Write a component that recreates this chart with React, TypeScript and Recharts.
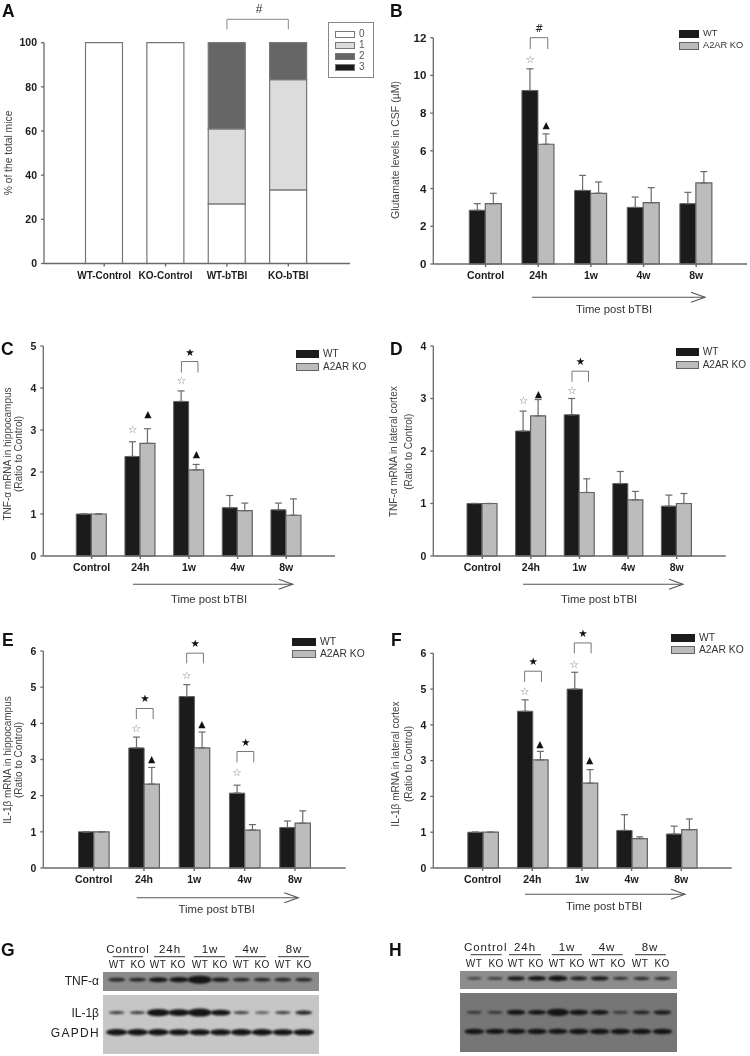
import { Bar, BarChart, ErrorBar, Legend, ReferenceDot, ReferenceLine, Scatter, ScatterChart, XAxis, YAxis } from 'recharts';

const SANS = '"Liberation Sans", Arial, sans-serif';
const GLYPHS = '"DejaVu Sans", sans-serif';
const AXIS = '#6a6a6a';
const WT_FILL = '#1b1b1b';
const KO_FILL = '#bcbcbc';
const BAR_EDGE = '#626262';

// panel A
const scoreCats = ['WT-Control', 'KO-Control', 'WT-bTBI', 'KO-bTBI'];
const score0 = [100, 100, 27, 33.3];
const score1 = [0, 0, 34, 50];
const score2 = [0, 0, 39, 16.7];
const score3 = [0, 0, 0, 0];

const times = ['Control', '24h', '1w', '4w', '8w'];

// panel B
const bWt = [2.85, 9.2, 3.9, 3, 3.2];
const bKo = [3.2, 6.35, 3.75, 3.25, 4.3];
const bWtTop = [3.2, 10.35, 4.7, 3.55, 3.8];
const bKoTop = [3.75, 6.9, 4.35, 4.05, 4.9];
// panel C
const cWt = [1, 2.37, 3.68, 1.15, 1.1];
const cKo = [1, 2.68, 2.05, 1.08, 0.97];
const cWtTop = [1, 2.72, 3.93, 1.44, 1.26];
const cKoTop = [1, 3.03, 2.18, 1.26, 1.36];
// panel D
const dWt = [1, 2.38, 2.69, 1.38, 0.95];
const dKo = [1, 2.67, 1.21, 1.07, 1];
const dWtTop = [1, 2.76, 3, 1.61, 1.16];
const dKoTop = [1, 2.98, 1.47, 1.23, 1.19];
// panel E
const eWt = [1, 3.32, 4.74, 2.07, 1.12];
const eKo = [1, 2.32, 3.32, 1.05, 1.24];
const eWtTop = [1, 3.62, 5.07, 2.29, 1.3];
const eKoTop = [1, 2.78, 3.76, 1.2, 1.58];
// panel F
const fWt = [1, 4.38, 5, 1.05, 0.95];
const fKo = [1, 3.02, 2.37, 0.82, 1.07];
const fWtTop = [1, 4.7, 5.47, 1.49, 1.17];
const fKoTop = [1, 3.26, 2.75, 0.87, 1.37];

// significance marks: [category, y value]
type Pt = [string, number];
type Br = [string, number, number];
const bOpen: Pt[] = [['24h', 10.85]];
const bTri: Pt[] = [['24h', 7.42]];
const bBrackets: Br[] = [['24h', 12, 11.4]];
const bHash: Pt[] = [['24h', 12.5]];
const cOpen: Pt[] = [['24h', 3.02], ['1w', 4.2]];
const cTri: Pt[] = [['24h', 3.39], ['1w', 2.44]];
const cBrackets: Br[] = [['1w', 4.63, 4.37]];
const cStar: Pt[] = [['1w', 4.86]];
const dOpen: Pt[] = [['24h', 2.97], ['1w', 3.17]];
const dTri: Pt[] = [['24h', 3.1]];
const dBrackets: Br[] = [['1w', 3.52, 3.32]];
const dStar: Pt[] = [['1w', 3.71]];
const eOpen: Pt[] = [['24h', 3.88], ['1w', 5.33], ['4w', 2.65]];
const eTri: Pt[] = [['24h', 3.02], ['1w', 4]];
const eBrackets: Br[] = [['24h', 4.41, 4.12], ['1w', 5.94, 5.66], ['4w', 3.22, 2.92]];
const eStar: Pt[] = [['24h', 4.69], ['1w', 6.21], ['4w', 3.49]];
const fOpen: Pt[] = [['24h', 4.94], ['1w', 5.71]];
const fTri: Pt[] = [['24h', 3.49], ['1w', 3.03]];
const fBrackets: Br[] = [['24h', 5.5, 5.2], ['1w', 6.29, 6]];
const fStar: Pt[] = [['24h', 5.78], ['1w', 6.56]];

// blot band strength per lane
const gTnf = [0.3, 0.3, 0.5, 0.55, 1, 0.4, 0.3, 0.3, 0.3, 0.3];
const gIl = [0.2, 0.2, 0.9, 0.8, 1, 0.65, 0.2, 0.1, 0.2, 0.35];
const gGapdh = [0.75, 0.75, 0.75, 0.7, 0.7, 0.7, 0.75, 0.75, 0.7, 0.7];
const hTnf = [0.12, 0.15, 0.4, 0.45, 0.6, 0.35, 0.4, 0.2, 0.25, 0.25];
const hIl = [0.15, 0.15, 0.5, 0.45, 0.85, 0.55, 0.45, 0.15, 0.3, 0.4];
const hGapdh = [0.6, 0.55, 0.55, 0.6, 0.55, 0.6, 0.6, 0.6, 0.6, 0.6];
const blotGroups = ['Control', '24h', '1w', '4w', '8w'];
const blotLanes = ['WT', 'KO', 'WT', 'KO', 'WT', 'KO', 'WT', 'KO', 'WT', 'KO'];

const makeRows = (wt: number[], ko: number[], wtTop: number[], koTop: number[]) =>
  times.map((name, i) => ({
    name,
    wt: wt[i],
    ko: ko[i],
    wtErr: [0, wtTop[i] - wt[i]],
    koErr: [0, koTop[i] - ko[i]],
  }));

const scoreRows = scoreCats.map((name, i) => ({
  name,
  s0: score0[i],
  s1: score1[i],
  s2: score2[i],
  s3: score3[i],
}));

function Glyph({ cx, cy, dx = 0, glyph, color, size }: any) {
  return (
    <text
      x={cx + dx}
      y={cy}
      textAnchor="middle"
      dominantBaseline="central"
      fontFamily={GLYPHS}
      fontSize={size}
      fill={color}
    >
      {glyph}
    </text>
  );
}

function WtKoLegend({ x, y, swatch, gap, size }: any) {
  const items = [
    { label: 'WT', fill: WT_FILL },
    { label: 'A2AR KO', fill: KO_FILL },
  ];
  return (
    <div style={{ position: 'relative', left: x, top: y, fontFamily: SANS, fontSize: size, color: '#333' }}>
      {items.map((it, i) => (
        <div key={it.label} style={{ position: 'absolute', top: i * gap, left: 0, whiteSpace: 'nowrap', height: 7 }}>
          <span
            style={{
              position: 'absolute',
              left: 0,
              top: 0,
              width: swatch,
              height: 6,
              background: it.fill,
              border: `1px solid ${i ? BAR_EDGE : WT_FILL}`,
            }}
          />
          <span style={{ position: 'absolute', left: swatch + 6, top: -3, lineHeight: '13px' }}>{it.label}</span>
        </div>
      ))}
    </div>
  );
}

function TimePanel(p: any) {
  const {
    left, top, width, height, plotLeft, plotRight, plotTop, plotBottom, padL, padR, barSize, rows, yMax, yStep,
    titles, titleY, titleSize = 10, open, tri, star, hash, brackets, arrow, timeLabel, legend, tickSize,
  } = p;
  const yTicks: number[] = [];
  for (let v = 0; v <= yMax; v += yStep) yTicks.push(v);
  const half = barSize / 2;
  return (
    <div style={{ position: 'absolute', left, top }}>
      <BarChart
        width={width}
        height={height}
        data={rows}
        barGap={0}
        barSize={barSize}
        margin={{ top: plotTop - top, left: 0, right: left + width - plotRight, bottom: top + height - plotBottom - 30 }}
      >
        <XAxis
          dataKey="name"
          height={30}
          padding={{ left: padL, right: padR }}
          stroke={AXIS}
          strokeWidth={1.4}
          tickSize={3}
          tickMargin={5}
          interval={0}
          tick={{ fontFamily: SANS, fontSize: 10.5, fontWeight: 700, fill: '#1c1c1c' }}
        />
        <YAxis
          width={plotLeft - left}
          domain={[0, yMax]}
          ticks={yTicks}
          interval={0}
          stroke={AXIS}
          strokeWidth={1.3}
          tickSize={3}
          tickMargin={4}
          tick={{ fontFamily: SANS, fontSize: tickSize, fontWeight: 700, fill: '#1c1c1c' }}
        />
        <Legend
          layout="vertical"
          align="center"
          verticalAlign="middle"
          wrapperStyle={{ left: 0, top: 0, width: 0, height: 0 }}
          content={() => <WtKoLegend {...legend} x={legend.x - left} y={legend.y - top} />}
        />
        <Bar dataKey="wt" fill={WT_FILL} stroke={BAR_EDGE} strokeWidth={1} isAnimationActive={false}>
          <ErrorBar dataKey="wtErr" direction="y" width={3.5} stroke={AXIS} strokeWidth={1.2} isAnimationActive={false} />
        </Bar>
        <Bar dataKey="ko" fill={KO_FILL} stroke={BAR_EDGE} strokeWidth={1.2} isAnimationActive={false}>
          <ErrorBar dataKey="koErr" direction="y" width={3.5} stroke={AXIS} strokeWidth={1.2} isAnimationActive={false} />
        </Bar>
        {open.map(([x, y]: Pt) => (
          <ReferenceDot
            key={`o${x}`}
            x={x}
            y={y}
            ifOverflow="visible"
            shape={(s: any) => <Glyph cx={s.cx} cy={s.cy} dx={-half} glyph="☆" color="#777" size={10.5} />}
          />
        ))}
        {tri.map(([x, y]: Pt) => (
          <ReferenceDot
            key={`t${x}`}
            x={x}
            y={y}
            ifOverflow="visible"
            shape={(s: any) => <Glyph cx={s.cx} cy={s.cy} dx={half} glyph="▲" color="#111" size={9.5} />}
          />
        ))}
        {(star || []).map(([x, y]: Pt) => (
          <ReferenceDot
            key={`s${x}`}
            x={x}
            y={y}
            ifOverflow="visible"
            shape={(s: any) => <Glyph cx={s.cx} cy={s.cy} dx={1} glyph="★" color="#111" size={10.5} />}
          />
        ))}
        {(hash || []).map(([x, y]: Pt) => (
          <ReferenceDot
            key={`h${x}`}
            x={x}
            y={y}
            ifOverflow="visible"
            shape={(s: any) => <Glyph cx={s.cx} cy={s.cy} dx={1} glyph="#" color="#222" size={10} />}
          />
        ))}
        {brackets.map(([x, hi, lo]: Br) => (
          <ReferenceDot
            key={`b${x}`}
            x={x}
            y={hi}
            ifOverflow="visible"
            shape={(s: any) => {
              // lower end sits (hi - lo) axis units under the top of the bracket
              const drop = ((hi - lo) / yMax) * (plotBottom - plotTop);
              const x0 = s.cx - half;
              const x1 = s.cx + half + 1.5;
              return (
                <path
                  d={`M${x0} ${s.cy + drop}V${s.cy}H${x1}V${s.cy + drop}`}
                  fill="none"
                  stroke="#777"
                  strokeWidth={1}
                />
              );
            }}
          />
        ))}
        {titles.map((t: any) => (
          <text
            key={t.text}
            transform={`translate(${t.x - left},${titleY - top}) rotate(-90)`}
            textAnchor="middle"
            dominantBaseline="central"
            fontFamily={SANS}
            fontSize={titleSize}
            fill="#444"
          >
            {t.text}
          </text>
        ))}
        <g stroke="#555" fill="none" strokeWidth={1.1}>
          <line x1={arrow.x0 - left} x2={arrow.x1 - left} y1={arrow.y - top} y2={arrow.y - top} />
          <polyline
            points={`${arrow.x1 - left - 14},${arrow.y - top - 5} ${arrow.x1 - left},${arrow.y - top} ${arrow.x1 - left - 14},${arrow.y - top + 5}`}
          />
        </g>
        <text
          x={timeLabel.x - left}
          y={timeLabel.y - top}
          textAnchor="middle"
          fontFamily={SANS}
          fontSize={11.3}
          fill="#333"
        >
          Time post bTBI
        </text>
      </BarChart>
    </div>
  );
}

function ScoreLegend() {
  const items = [
    ['0', '#fff'],
    ['1', '#dcdcdc'],
    ['2', '#666'],
    ['3', '#1a1a1a'],
  ];
  return (
    <div
      style={{
        position: 'absolute',
        left: 328,
        top: 22,
        width: 44,
        height: 54,
        border: '1px solid #888',
        fontFamily: SANS,
        fontSize: 10,
        color: '#555',
      }}
    >
      {items.map(([label, fill], i) => (
        <div key={label}>
          <span
            style={{
              position: 'absolute',
              left: 6,
              top: 8 + i * 10.9,
              width: 18,
              height: 5,
              background: fill,
              border: '1px solid #777',
            }}
          />
          <span style={{ position: 'absolute', left: 30, top: 5 + i * 10.9, lineHeight: '12px' }}>{label}</span>
        </div>
      ))}
    </div>
  );
}

function PanelA() {
  const edge = { stroke: '#777', strokeWidth: 1.2, isAnimationActive: false, stackId: 'score', barSize: 37 };
  return (
    <div style={{ position: 'absolute', left: 0, top: 0 }}>
      <BarChart width={375} height={310} data={scoreRows} margin={{ top: 42.7, left: 0, right: 25, bottom: 16.5 }}>
        <XAxis
          dataKey="name"
          height={30}
          padding={{ left: 29.5, right: 31 }}
          stroke={AXIS}
          strokeWidth={1.4}
          tickSize={3}
          tickMargin={5}
          interval={0}
          tick={{ fontFamily: SANS, fontSize: 10, fontWeight: 700, fill: '#1c1c1c' }}
        />
        <YAxis
          width={44}
          domain={[0, 100]}
          ticks={[0, 20, 40, 60, 80, 100]}
          interval={0}
          stroke={AXIS}
          strokeWidth={1.3}
          tickSize={3}
          tickMargin={4}
          tick={{ fontFamily: SANS, fontSize: 10.5, fontWeight: 700, fill: '#1c1c1c' }}
        />
        <Legend layout="vertical" align="center" verticalAlign="middle" wrapperStyle={{ left: 0, top: 0, width: 0, height: 0 }} content={() => <ScoreLegend />} />
        <Bar dataKey="s0" fill="#fff" {...edge} />
        <Bar dataKey="s1" fill="#dcdcdc" {...edge} />
        <Bar dataKey="s2" fill="#666" {...edge} />
        <Bar dataKey="s3" fill="#1a1a1a" {...edge} />
        <ReferenceLine
          ifOverflow="visible"
          stroke="#888"
          segment={[{ x: 'WT-bTBI', y: 110.6 }, { x: 'KO-bTBI', y: 110.6 }]}
        />
        <ReferenceLine ifOverflow="visible" stroke="#888" segment={[{ x: 'WT-bTBI', y: 110.6 }, { x: 'WT-bTBI', y: 106 }]} />
        <ReferenceLine ifOverflow="visible" stroke="#888" segment={[{ x: 'KO-bTBI', y: 110.6 }, { x: 'KO-bTBI', y: 106 }]} />
        <text x={259} y={9} textAnchor="middle" dominantBaseline="central" fontFamily={SANS} fontSize={12} fill="#333">
          #
        </text>
        <text
          transform="translate(8,153) rotate(-90)"
          textAnchor="middle"
          dominantBaseline="central"
          fontFamily={SANS}
          fontSize={10.3}
          fill="#444"
        >
          % of the total mice
        </text>
      </BarChart>
    </div>
  );
}

function Blot({ left, top, width, height, bg, rows, domain }: any) {
  const data = rows.flatMap((r: any) => r.bands.map((s: number, lane: number) => ({ lane, row: r.row, s })));
  return (
    <div style={{ position: 'absolute', left, top, width, height, background: bg, overflow: 'hidden' }}>
      <ScatterChart width={width} height={height} margin={{ top: 0, left: 0, right: 0, bottom: 0 }}>
        <XAxis type="number" dataKey="lane" domain={domain} hide />
        <YAxis type="number" dataKey="row" domain={[0, 1]} reversed hide />
        <Scatter
          data={data}
          isAnimationActive={false}
          shape={(d: any) => (
            <ellipse
              cx={d.cx}
              cy={d.cy}
              rx={7 + 5 * d.payload.s}
              ry={1 + 3 * d.payload.s}
              fill="#141414"
              fillOpacity={Math.min(1, 0.55 + d.payload.s)}
              style={{ filter: 'blur(1px)' }}
            />
          )}
        />
      </ScatterChart>
    </div>
  );
}

function BlotText({ groups, lines, laneXs, groupY, lineY, laneY }: any) {
  return (
    <g fontFamily={SANS} fill="#222">
      {blotGroups.map((g, i) => (
        <text key={g} x={groups[i]} y={groupY} textAnchor="middle" fontSize={11.5} letterSpacing={0.9}>
          {g}
        </text>
      ))}
      {lines.map(([a, b]: number[]) => (
        <line key={a} x1={a} x2={b} y1={lineY} y2={lineY} stroke="#333" strokeWidth={1} />
      ))}
      {blotLanes.map((l, i) => (
        <text key={i} x={laneXs[i]} y={laneY} textAnchor="middle" fontSize={10} letterSpacing={0.4}>
          {l}
        </text>
      ))}
    </g>
  );
}

const LETTERS: [string, number, number][] = [
  ['A', 2, 17],
  ['B', 390, 17],
  ['C', 1, 355],
  ['D', 390, 355],
  ['E', 2, 646],
  ['F', 391, 646],
  ['G', 1, 956],
  ['H', 389, 956],
];

export default function App() {
  return (
    <div
      style={{
        position: 'absolute',
        left: 0,
        top: 0,
        width: 750,
        height: 1056,
        overflow: 'hidden',
        background: '#fff',
        filter: 'blur(0.5px)',
      }}
    >
      <PanelA />
      <TimePanel
        left={375} top={0} width={375} height={320}
        plotLeft={433.3} plotRight={747} plotTop={37.7} plotBottom={264}
        padL={26} padR={24.5} barSize={16}
        rows={makeRows(bWt, bKo, bWtTop, bKoTop)} yMax={12} yStep={2} tickSize={11.5}
        titles={[{ x: 395, text: 'Glutamate levels in CSF (µM)' }]} titleY={150} titleSize={10.5}
        open={bOpen} tri={bTri} hash={bHash} brackets={bBrackets}
        arrow={{ x0: 532, x1: 705, y: 297.3 }} timeLabel={{ x: 614, y: 313 }}
        legend={{ x: 679, y: 30, swatch: 18, gap: 12, size: 9.3 }}
      />
      <TimePanel
        left={0} top={320} width={375} height={300}
        plotLeft={43.3} plotRight={335} plotTop={346} plotBottom={556}
        padL={24} padR={24.4} barSize={15}
        rows={makeRows(cWt, cKo, cWtTop, cKoTop)} yMax={5} yStep={1} tickSize={10.5}
        titles={[{ x: 7.3, text: 'TNF-α mRNA in hippocampus' }, { x: 18, text: '(Ratio to Control)' }]} titleY={454}
        open={cOpen} tri={cTri} star={cStar} brackets={cBrackets}
        arrow={{ x0: 133, x1: 292.7, y: 584.3 }} timeLabel={{ x: 209, y: 602.7 }}
        legend={{ x: 296, y: 350, swatch: 21, gap: 12.7, size: 10 }}
      />
      <TimePanel
        left={375} top={320} width={375} height={300}
        plotLeft={433.3} plotRight={725.7} plotTop={346} plotBottom={556}
        padL={24.7} padR={24.7} barSize={15}
        rows={makeRows(dWt, dKo, dWtTop, dKoTop)} yMax={4} yStep={1} tickSize={10.5}
        titles={[{ x: 393, text: 'TNF-α mRNA in lateral cortex' }, { x: 408, text: '(Ratio to Control)' }]} titleY={451.7}
        open={dOpen} tri={dTri} star={dStar} brackets={dBrackets}
        arrow={{ x0: 523, x1: 683, y: 584.3 }} timeLabel={{ x: 599, y: 603.3 }}
        legend={{ x: 675.7, y: 348, swatch: 21, gap: 12.7, size: 10 }}
      />
      <TimePanel
        left={0} top={620} width={375} height={305}
        plotLeft={43.3} plotRight={345.7} plotTop={651} plotBottom={868}
        padL={25.2} padR={25.6} barSize={15.3}
        rows={makeRows(eWt, eKo, eWtTop, eKoTop)} yMax={6} yStep={1} tickSize={10.5}
        titles={[{ x: 7.3, text: 'IL-1β mRNA in hippocampus' }, { x: 18, text: '(Ratio to Control)' }]} titleY={760}
        open={eOpen} tri={eTri} star={eStar} brackets={eBrackets}
        arrow={{ x0: 136.7, x1: 298.3, y: 897.7 }} timeLabel={{ x: 216.7, y: 913 }}
        legend={{ x: 292, y: 637.5, swatch: 22, gap: 12.7, size: 10.3 }}
      />
      <TimePanel
        left={375} top={620} width={375} height={305}
        plotLeft={433.3} plotRight={731.7} plotTop={653.3} plotBottom={868}
        padL={24.5} padR={25.6} barSize={15.3}
        rows={makeRows(fWt, fKo, fWtTop, fKoTop)} yMax={6} yStep={1} tickSize={10.5}
        titles={[{ x: 395, text: 'IL-1β mRNA in lateral cortex' }, { x: 408, text: '(Ratio to Control)' }]} titleY={764}
        open={fOpen} tri={fTri} star={fStar} brackets={fBrackets}
        arrow={{ x0: 525, x1: 685, y: 894.3 }} timeLabel={{ x: 604, y: 910 }}
        legend={{ x: 671, y: 634, swatch: 22, gap: 12.4, size: 10.3 }}
      />

      <Blot left={103.3} top={972.3} width={216} height={18.7} bg="#8b8b8b" domain={[-0.66, 9.74]} rows={[{ row: 0.41, bands: gTnf }]} />
      <Blot left={103.3} top={995.3} width={216} height={58.7} bg="#c6c6c6" domain={[-0.66, 9.74]} rows={[{ row: 0.3, bands: gIl }, { row: 0.635, bands: gGapdh }]} />
      <Blot left={459.7} top={970.7} width={217} height={18} bg="#8d8d8d" domain={[-0.68, 9.7]} rows={[{ row: 0.41, bands: hTnf }]} />
      <Blot left={459.7} top={993.3} width={217} height={58.7} bg="#767676" domain={[-0.68, 9.7]} rows={[{ row: 0.33, bands: hIl }, { row: 0.655, bands: hGapdh }]} />

      <svg width={750} height={1056} style={{ position: 'absolute', left: 0, top: 0, pointerEvents: 'none' }}>
        {LETTERS.map(([t, x, y]) => (
          <text key={t} x={x} y={y} fontFamily={SANS} fontWeight={700} fontSize={17.5} fill="#111">
            {t}
          </text>
        ))}
        <BlotText
          groups={[128, 170, 210, 250.7, 294]}
          lines={[[112.7, 143], [154, 185], [194, 225], [235, 266], [278, 309]]}
          laneXs={[117, 138, 158, 178, 200, 220, 241, 262, 283, 304]}
          groupY={953} lineY={956.7} laneY={968}
        />
        <BlotText
          groups={[485.7, 525, 567, 607, 650]}
          lines={[[470.7, 501.7], [509, 541], [551.7, 582], [591.7, 622.7], [635, 666]]}
          laneXs={[474, 496, 516, 536, 557, 577, 597, 618, 640, 662]}
          groupY={951} lineY={954.7} laneY={967}
        />
        <g fontFamily={SANS} fill="#222" fontSize={12} textAnchor="end">
          <text x={99} y={985}>TNF-α</text>
          <text x={99} y={1017}>IL-1β</text>
          <text x={100} y={1037} letterSpacing={1.3}>GAPDH</text>
        </g>
      </svg>
    </div>
  );
}
